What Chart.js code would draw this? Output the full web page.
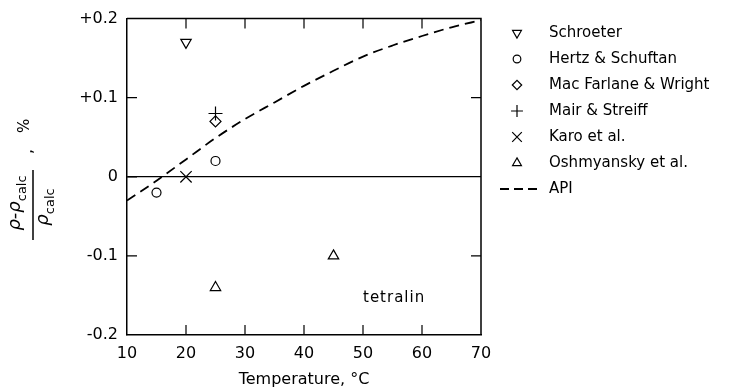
<!DOCTYPE html>
<html>
<head>
<meta charset="utf-8">
<script src="https://cdn.jsdelivr.net/npm/chart.js@4.4.0/dist/chart.umd.min.js"></script>
<style>
  html, body { margin: 0; padding: 0; background: #fff; }
  #wrap { position: relative; width: 740px; height: 389px; }
</style>
</head>
<body>
<div id="wrap"><canvas id="myChart"></canvas></div>
<script>
// valores (desvio em %, temperatura em °C)
const seriesNames = ['Schroeter', 'Hertz & Schuftan', 'Mac Farlane & Wright', 'Mair & Streiff', 'Karo et al.', 'Oshmyansky et al.', 'API'];
const schroeterT = [20];          const schroeterDev = [0.17];
const hertzT = [15, 25];          const hertzDev = [-0.02, 0.02];
const macfarlaneT = [25];         const macfarlaneDev = [0.07];
const mairT = [25];               const mairDev = [0.08];
const karoT = [20];               const karoDev = [0];
const oshmyanskyT = [25, 45];     const oshmyanskyDev = [-0.14, -0.10];
const apiT = [10, 15, 20, 25, 30, 35, 40, 45, 50, 55, 60, 65, 70];
const apiDev = [-0.030, -0.005, 0.022, 0.049, 0.073, 0.094, 0.115, 0.134, 0.152, 0.166, 0.178, 0.189, 0.198];
const xTicks = [10, 20, 30, 40, 50, 60, 70];
const yTickValues = [-0.2, -0.1, 0, 0.1, 0.2];
const yTickLabels = ['-0.2', '-0.1', '0', '+0.1', '+0.2'];

const FONT = 'DejaVu Sans';

function pts(xs, ys) {
  return xs.map((x, i) => ({ x: x, y: ys[i] }));
}

function marker(style, radius, rotation) {
  return {
    showLine: false,
    pointStyle: style,
    pointRadius: radius,
    pointRotation: rotation || 0,
    pointBorderColor: '#000',
    pointBackgroundColor: 'rgba(0,0,0,0)',
    pointBorderWidth: 1.2,
    borderColor: '#000',
    backgroundColor: 'rgba(0,0,0,0)'
  };
}

const datasets = [
  Object.assign({ label: seriesNames[0], data: pts(schroeterT, schroeterDev) }, marker('triangle', 6, 180)),
  Object.assign({ label: seriesNames[1], data: pts(hertzT, hertzDev) }, marker('circle', 4.5)),
  Object.assign({ label: seriesNames[2], data: pts(macfarlaneT, macfarlaneDev) }, marker('rectRot', 5.5)),
  Object.assign({ label: seriesNames[3], data: pts(mairT, mairDev) }, marker('cross', 7)),
  Object.assign({ label: seriesNames[4], data: pts(karoT, karoDev) }, marker('crossRot', 8)),
  Object.assign({ label: seriesNames[5], data: pts(oshmyanskyT, oshmyanskyDev) }, marker('triangle', 6)),
  {
    label: seriesNames[6],
    data: pts(apiT, apiDev),
    showLine: true,
    borderColor: '#000',
    borderWidth: 1.8,
    borderDash: [10, 6],
    pointRadius: 0,
    cubicInterpolationMode: 'monotone',
    fill: false
  }
];

// moldura, marcas internas, legenda e título do eixo y
const decoracao = {
  id: 'decoracao',
  afterDraw(chart) {
    const ctx = chart.ctx;
    const a = chart.chartArea;
    const xs = chart.scales.x, ys = chart.scales.y;
    ctx.save();
    ctx.strokeStyle = '#000';
    ctx.lineWidth = 1.5;
    ctx.beginPath();
    ctx.moveTo(a.left, a.top); ctx.lineTo(a.right, a.top); ctx.lineTo(a.right, a.bottom);
    ctx.stroke();

    ctx.lineWidth = 1.2;
    ctx.beginPath();
    xTicks.slice(1, -1).forEach(t => {
      const px = xs.getPixelForValue(t);
      ctx.moveTo(px, a.bottom); ctx.lineTo(px, a.bottom - 10);
      ctx.moveTo(px, a.top); ctx.lineTo(px, a.top + 10);
    });
    yTickValues.slice(1, -1).forEach(v => {
      const py = ys.getPixelForValue(v);
      ctx.moveTo(a.left, py); ctx.lineTo(a.left + 10, py);
      if (v !== 0) { ctx.moveTo(a.right, py); ctx.lineTo(a.right - 10, py); }
    });
    ctx.stroke();

    // legenda
    ctx.textBaseline = 'middle';
    ctx.textAlign = 'left';
    chart.data.datasets.forEach((ds, i) => {
      const y = 33 + i * 26;
      if (ds.showLine) {
        ctx.save();
        ctx.lineWidth = 1.8;
        ctx.setLineDash([9, 5]);
        ctx.beginPath(); ctx.moveTo(500, y); ctx.lineTo(537, y); ctx.stroke();
        ctx.restore();
      } else {
        ctx.fillStyle = 'rgba(0,0,0,0)';
        ctx.lineWidth = ds.pointBorderWidth;
        Chart.helpers.drawPoint(ctx, {
          pointStyle: ds.pointStyle,
          rotation: ds.pointRotation,
          radius: ds.pointRadius * 0.85,
          borderWidth: ds.pointBorderWidth
        }, 517, y);
      }
      ctx.fillStyle = '#000';
      ctx.font = '15px "' + FONT + '"';
      ctx.fillText(ds.label, 549, y);
    });

    // rótulo dentro do gráfico
    ctx.letterSpacing = '1px';
    ctx.fillText('tetralin', 363, 298);
    ctx.letterSpacing = '0px';

    // título do eixo y: (ρ − ρcalc) / ρcalc , %
    ctx.rotate(-Math.PI / 2);
    ctx.lineWidth = 1.5;
    ctx.beginPath(); ctx.moveTo(-240, 33); ctx.lineTo(-170, 33); ctx.stroke();
    ctx.textBaseline = 'alphabetic';
    const rhoFont = 'italic 18px "' + FONT + '"';
    const subFont = '13px "' + FONT + '"';
    ctx.font = rhoFont;
    const wRho = ctx.measureText('ρ').width;
    const wMinus = ctx.measureText('-').width;
    ctx.font = subFont;
    const wCalc = ctx.measureText('calc').width;
    let u = -203 - (2 * wRho + wMinus + wCalc) / 2;
    ctx.font = rhoFont;
    ctx.fillText('ρ', u, 20); u += wRho;
    ctx.fillText('-', u, 20); u += wMinus;
    ctx.fillText('ρ', u, 20); u += wRho;
    ctx.font = subFont;
    ctx.fillText('calc', u, 26);
    u = -207 - (wRho + wCalc) / 2;
    ctx.font = rhoFont;
    ctx.fillText('ρ', u, 48); u += wRho;
    ctx.font = subFont;
    ctx.fillText('calc', u, 54);
    ctx.font = '16px "' + FONT + '"';
    ctx.fillText(',', -154, 32);
    ctx.font = '15px "' + FONT + '"';
    ctx.fillText('%', -133, 29);
    ctx.restore();
  }
};

const ctx = document.getElementById('myChart').getContext('2d');
const myChart = new Chart(ctx, {
  type: 'scatter',
  data: { datasets: datasets },
  options: {
    responsive: true,
    maintainAspectRatio: false,
    animation: false,
    layout: { padding: { top: 15, right: 259, left: 0, bottom: 0 } },
    plugins: { legend: { display: false }, tooltip: { enabled: false } },
    scales: {
      x: {
        type: 'linear',
        min: 10,
        max: 70,
        afterBuildTicks: s => { s.ticks = xTicks.map(v => ({ value: v })); },
        afterFit: s => { s.height = 54; },
        grid: { display: false, drawTicks: false },
        border: { display: true, color: '#000', width: 1.5 },
        ticks: { color: '#000', padding: 9, font: { family: FONT, size: 16 } },
        title: {
          display: true,
          text: 'Temperature, °C',
          color: '#000',
          padding: { top: 0, bottom: 0 },
          font: { family: FONT, size: 16 }
        }
      },
      y: {
        type: 'linear',
        min: -0.2,
        max: 0.2,
        afterBuildTicks: s => { s.ticks = yTickValues.map(v => ({ value: v })); },
        afterFit: s => { s.width = 127; },
        grid: {
          drawTicks: false,
          color: c => (c.tick && c.tick.value === 0 ? '#000' : 'rgba(0,0,0,0)'),
          lineWidth: 1.2
        },
        border: { display: true, color: '#000', width: 1.5 },
        ticks: {
          color: '#000',
          padding: 9,
          font: { family: FONT, size: 16 },
          callback: v => yTickLabels[yTickValues.indexOf(v)]
        }
      }
    }
  },
  plugins: [decoracao]
});
</script>
</body>
</html>
